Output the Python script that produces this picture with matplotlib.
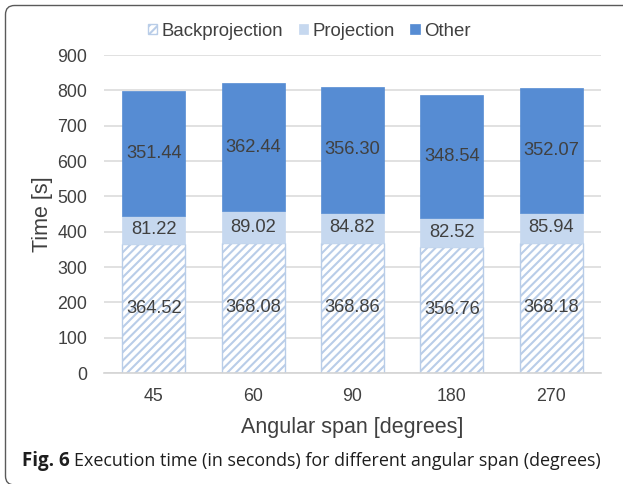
import matplotlib
matplotlib.use("Agg")
import matplotlib.pyplot as plt
import numpy as np
from matplotlib.patches import FancyBboxPatch
from matplotlib.transforms import IdentityTransform

categories = ["45", "60", "90", "180", "270"]
backprojection = [364.52, 368.08, 368.86, 356.76, 368.18]
projection = [81.22, 89.02, 84.82, 82.52, 85.94]
other = [351.44, 362.44, 356.30, 348.54, 352.07]
series_names = ["Backprojection", "Projection", "Other"]

plt.rcParams["font.family"] = ["Liberation Sans", "DejaVu Sans"]
plt.rcParams["hatch.linewidth"] = 1.5

W, H = 623, 484
fig = plt.figure(figsize=(W / 100, H / 100), dpi=100)
ax = fig.add_axes([104 / W, 1 - 373 / H, (601 - 104) / W, (373 - 55) / H])

x = np.arange(len(categories))
width = 0.634
text_col = "#404040"
hatch_col = "#B9CDE8"
proj_col = "#C6D8EF"
other_col = "#568CD3"

b1 = ax.bar(x, backprojection, width, color="white", edgecolor=hatch_col,
            hatch="////", linewidth=1.0, label=series_names[0], zorder=2)
b2 = ax.bar(x, projection, width, bottom=backprojection, color=proj_col,
            edgecolor=proj_col, linewidth=0.5, label=series_names[1], zorder=2)
bottom2 = np.array(backprojection) + np.array(projection)
b3 = ax.bar(x, other, width, bottom=bottom2, color=other_col,
            edgecolor=other_col, linewidth=0.5, label=series_names[2], zorder=2)

for i in range(len(categories)):
    ax.text(x[i], backprojection[i] / 2, f"{backprojection[i]:.2f}",
            ha="center", va="center", fontsize=13.2, color=text_col, zorder=3)
    ax.text(x[i], backprojection[i] + projection[i] / 2, f"{projection[i]:.2f}",
            ha="center", va="center", fontsize=13.2, color=text_col, zorder=3)
    ax.text(x[i], bottom2[i] + other[i] / 2, f"{other[i]:.2f}",
            ha="center", va="center", fontsize=13.2, color=text_col, zorder=3)

ax.set_ylim(0, 900)
ax.set_xlim(-0.5, len(categories) - 0.5)
ax.set_yticks(np.arange(0, 901, 100))
ax.set_xticks(x)
ax.set_xticklabels(categories)
ax.tick_params(axis="both", length=0, labelsize=12.8, labelcolor=text_col)
ax.tick_params(axis="y", pad=12)
ax.tick_params(axis="x", pad=10.5)
ax.yaxis.grid(True, color="#DCDCDC", linewidth=1.2, zorder=0)
ax.set_axisbelow(True)
for s in ["top", "right", "left"]:
    ax.spines[s].set_visible(False)
ax.spines["bottom"].set_color("#D4D4D4")
ax.spines["bottom"].set_linewidth(1.2)

ax.set_ylabel("Time [s]", fontsize=15.5, color=text_col, labelpad=3)
ax.set_xlabel("Angular span [degrees]", fontsize=15.5, color=text_col,
              labelpad=9)

fig.legend(handles=[b1, b2, b3], labels=series_names, loc="center",
           bbox_to_anchor=(309 / W, 1 - 31 / H), ncol=3, frameon=False,
           fontsize=13.4, handlelength=0.5, handleheight=0.5,
           handletextpad=0.22, columnspacing=0.86, labelcolor=text_col,
           borderpad=0.1)

# rounded frame around the figure panel (pixel coordinates)
frame = FancyBboxPatch((5.5, -1.0), 700, H - 5.5 + 1.0,
                       boxstyle="round,pad=0,rounding_size=9",
                       transform=IdentityTransform(), fill=False,
                       edgecolor="#5A5A5A", linewidth=1.0, zorder=0)
fig.patches.append(frame)

cap_font = ["Open Sans", "DejaVu Sans"]
cap_y = 1 - 461 / H
t1 = fig.text(22 / W, cap_y, "Fig. 6", fontsize=13.5, fontweight="bold",
              family=cap_font, color="#1E1E1E", va="center")
renderer = fig.canvas.get_renderer()
bb = t1.get_window_extent(renderer=renderer)
fig.text((bb.x1 + 4) / W, cap_y,
         "Execution time (in seconds) for different angular span (degrees)",
         fontsize=12.9, family=cap_font, color="#1E1E1E", va="center")

fig.savefig("out.png", dpi=100)
